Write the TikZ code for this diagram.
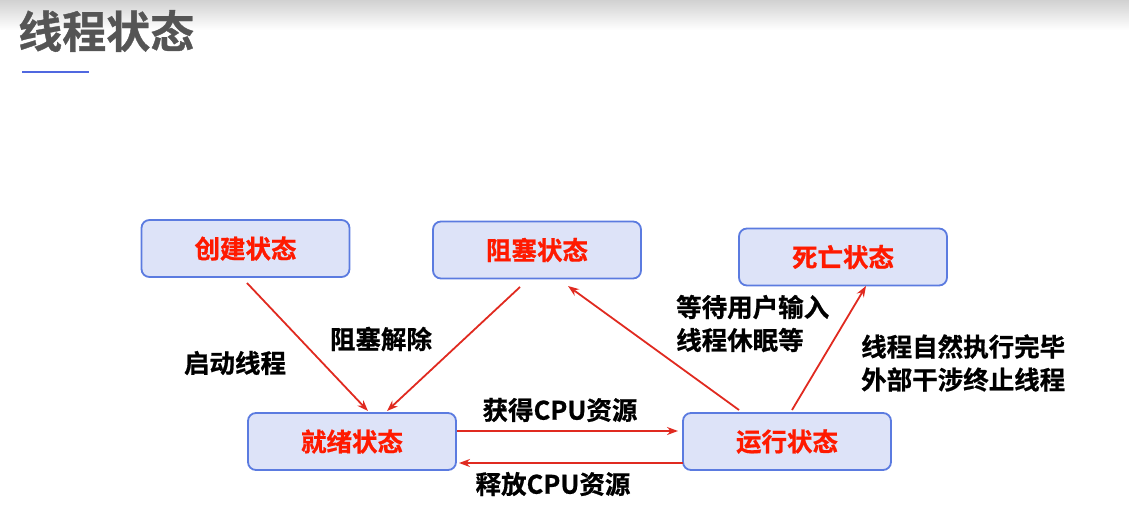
\documentclass[tikz,border=0pt]{standalone}
\usepackage{fontspec}
\setmainfont{Noto Sans CJK SC}
\newfontfamily\cjkb[FakeBold=0.8]{Noto Sans CJK SC Bold}
\usetikzlibrary{arrows.meta}
\definecolor{boxfill}{HTML}{DDE3F8}
\definecolor{boxline}{HTML}{5B7BE0}
\definecolor{redtxt}{HTML}{FF1A00}
\definecolor{arr}{HTML}{E02A20}
\definecolor{titlegray}{HTML}{555555}
\definecolor{uline}{HTML}{5068E0}
\begin{document}
\begin{tikzpicture}[x=1pt,y=-1pt,
  state/.style={draw=boxline, line width=1.8pt, fill=boxfill, rounded corners=8pt,
    minimum width=208pt, minimum height=57pt, inner sep=0pt,
    text=redtxt, font=\cjkb\fontsize{25.5}{28}\selectfont},
  lbl/.style={font=\cjkb\fontsize{25.5}{33}\selectfont, text=black, inner sep=0pt},
  flow/.style={draw=arr, line width=1.8pt, -{Stealth[length=11pt,width=8pt]}}]
\useasboundingbox (0,0) rectangle (1129,532);
\shade[top color=black!18, bottom color=white] (0,0) rectangle (1129,30);
\node[anchor=west, inner sep=0pt, text=titlegray, font=\cjkb\fontsize{44}{48}\selectfont] (title) at (18,31) {线程状态};
\coordinate (u1) at (22,72);
\coordinate (u2) at (89,72);
\draw[uline, line width=2.5pt] (u1) -- (u2);

\node[state] (create) at (245.5,248.5) {创建状态};
\node[state] (block) at (537,250) {阻塞状态};
\node[state] (dead) at (843,257) {死亡状态};
\node[state] (ready) at (352,441.5) {就绪状态};
\node[state] (run) at (787,441.5) {运行状态};

\coordinate (c1) at (247,283); \coordinate (r1) at (368,411);
\coordinate (b1) at (520,287); \coordinate (r2) at (387,411);
\coordinate (n1) at (739,410); \coordinate (b2) at (568,286);
\coordinate (n2) at (792,410); \coordinate (d1) at (866,286);
\coordinate (r3) at (457,431); \coordinate (n3) at (678,431);
\coordinate (n4) at (683,463); \coordinate (r4) at (459,463);

\draw[flow] (c1) -- (r1);
\draw[flow] (b1) -- (r2);
\draw[flow] (n1) -- (b2);
\draw[flow] (n2) -- (d1);
\draw[flow] (r3) -- (n3);
\draw[flow] (n4) -- (r4);

\node[lbl] (l1) at (235,363) {启动线程};
\node[lbl] (l2) at (381,339) {阻塞解除};
\node[lbl] (l3) at (560,410) {获得CPU资源};
\node[lbl] (l4) at (553,484) {释放CPU资源};
\node[lbl, anchor=west, align=left] (l5) at (676,323.5) {等待用户输入\\线程休眠等};
\node[lbl, anchor=west, align=left] (l6) at (861,363) {线程自然执行完毕\\外部干涉终止线程};
\end{tikzpicture}
\end{document}
